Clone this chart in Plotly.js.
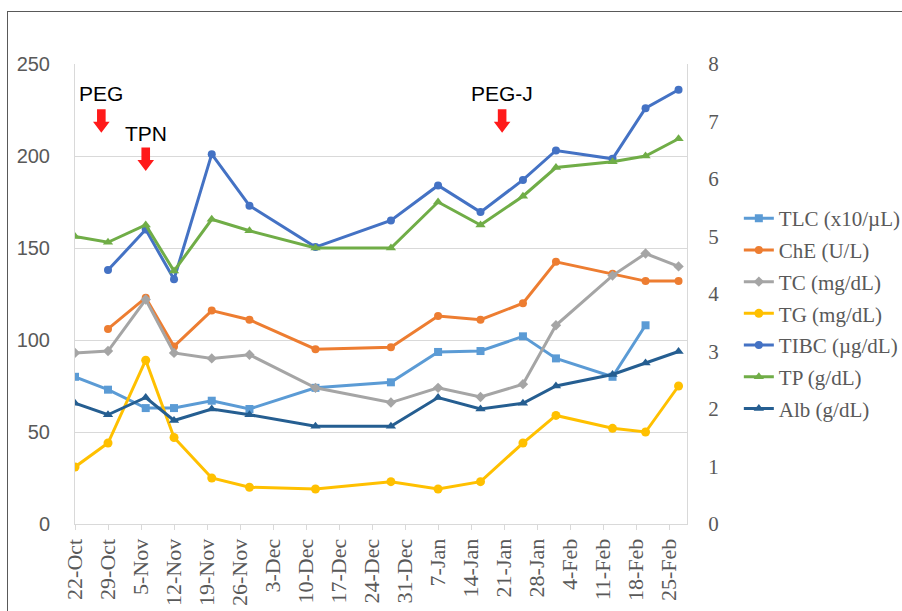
<!DOCTYPE html>
<html>
<head>
<meta charset="utf-8">
<script src="https://cdn.plot.ly/plotly-3.0.1.min.js"></script>
<style>
  html, body { margin: 0; padding: 0; background: #ffffff; overflow: hidden; width: 902px; height: 611px; }
  #frame { position: absolute; left: 7px; top: 11px; width: 1000px; height: 1000px;
           border-left: 1.5px solid #595959; border-top: 1.5px solid #595959; }
  #chart { position: absolute; left: 0; top: 0; width: 1000px; height: 611px; }
</style>
</head>
<body>
<div id="frame"></div>
<div id="chart"></div>
<script>
// ---- data ----
const dates = ['2018-10-22','2018-10-29','2018-11-06','2018-11-12','2018-11-20','2018-11-28',
  '2018-12-12','2018-12-28','2019-01-07','2019-01-16','2019-01-25','2019-02-01',
  '2019-02-13','2019-02-20','2019-02-27'];
const TLC  = [80, 73, 63, 63, 67, 62.5, 74, 77, 93.5, 94, 102, 90, 80, 108, null];
const ChE  = [null, 106, 123, 96.5, 116, 111, 95, 96, 113, 111, 120, 142.5, 136, 132, 132];
const TC   = [93, 94, 122, 93, 90, 92, 74, 66, 74, 69, 76, 108, 135, 147, 140];
const TG   = [31, 44, 89, 47, 25, 20, 19, 23, 19, 23, 44, 59, 52, 50, 75];
const TIBC = [null, 138, 160, 133, 201, 173, 150.5, 165, 184, 169.5, 187, 203, 198.5, 226, 236];
const TP   = [5.0, 4.9, 5.2, 4.4, 5.3, 5.1, 4.8, 4.8, 5.6, 5.2, 5.7, 6.2, 6.3, 6.4, 6.7];
const Alb  = [2.1, 1.9, 2.2, 1.8, 2.0, 1.9, 1.7, 1.7, 2.2, 2.0, 2.1, 2.4, 2.6, 2.8, 3.0];
const seriesNames = ['TLC (x10/\u00b5L)','ChE (U/L)','TC (mg/dL)','TG (mg/dL)','TIBC (\u00b5g/dL)','TP (g/dL)','Alb (g/dL)'];
const events = [
  {label: 'PEG',   date: '2018-10-27 14:00'},
  {label: 'TPN',   date: '2018-11-06'},
  {label: 'PEG-J', date: '2019-01-20 14:00'}
];

// ---- styles ----
const colors = ['#5B9BD5','#ED7D31','#A5A5A5','#FFC000','#4472C4','#70AD47','#255E91'];
const symbols = ['square','circle','diamond','circle','circle','triangle-up','triangle-up'];
const sizes = [8, 8, 8, 9, 8, 9, 9];
const values = [TLC, ChE, TC, TG, TIBC, TP, Alb];
const axes = ['y','y','y','y','y','y2','y2'];

const traces = values.map((v, i) => ({
  type: 'scatter', mode: 'lines+markers',
  x: dates, y: v, name: seriesNames[i], yaxis: axes[i],
  legendgroup: 'g' + i,
  connectgaps: false,
  line: {color: colors[i], width: 3},
  marker: {color: colors[i], symbol: symbols[i], size: sizes[i]}
}));

// event annotations: text + block arrows (pixel-sized shapes anchored at event date)
const evTextY = {PEG: 233.7, TPN: 212, 'PEG-J': 233.7};
const annotations = events.map(e => ({
  xref: 'x', yref: 'y', x: e.date, y: evTextY[e.label],
  text: e.label, showarrow: false,
  font: {family: 'Liberation Sans, Arial, sans-serif', size: 21, color: '#000000'}
}));
const arrowPath = 'M -4.3 0 L 4.3 0 L 4.3 -12.4 L 8.3 -12.4 L 0 -23.4 L -8.3 -12.4 L -4.3 -12.4 Z';
const arrowTop = {PEG: 225.4, TPN: 204.6, 'PEG-J': 225.4};
const shapes = events.map(e => ({
  type: 'path', xref: 'x', yref: 'y',
  xsizemode: 'pixel', ysizemode: 'pixel',
  xanchor: e.date, yanchor: arrowTop[e.label],
  path: arrowPath,
  fillcolor: '#FF1A1A', line: {width: 0}
}));

const layout = {
  width: 1000, height: 611,
  paper_bgcolor: 'rgba(0,0,0,0)', plot_bgcolor: 'rgba(0,0,0,0)',
  margin: {l: 75, r: 313.3, t: 64, b: 87},
  showlegend: true,
  legend: {
    x: 1.0847, xanchor: 'left', y: 0.7085, yanchor: 'top',
    font: {family: 'Liberation Serif, Times New Roman, serif', size: 21, color: '#595959'},
    bgcolor: 'rgba(0,0,0,0)', itemwidth: 30, tracegroupgap: 1.4
  },
  xaxis: {
    type: 'date',
    range: ['2018-10-22', '2019-02-28 19:00'],
    tick0: '2018-10-22', dtick: 7 * 86400000,
    tickformat: '%-d-%b', tickangle: -90,
    ticks: 'outside', ticklen: 5, tickcolor: '#D9D9D9',
    showline: true, linecolor: '#D9D9D9', linewidth: 1,
    showgrid: false, zeroline: false, automargin: false,
    tickfont: {family: 'Liberation Serif, Times New Roman, serif', size: 22, color: '#595959'}
  },
  yaxis: {
    range: [0, 250], dtick: 50,
    showgrid: true, gridcolor: '#D9D9D9', gridwidth: 1,
    showline: true, linecolor: '#D9D9D9', linewidth: 1,
    zeroline: false, ticks: '', automargin: false,
    ticklabelstandoff: 20,
    tickfont: {family: 'Liberation Sans, Arial, sans-serif', size: 20, color: '#595959'}
  },
  yaxis2: {
    overlaying: 'y', side: 'right',
    range: [0, 8], dtick: 1,
    showgrid: false, zeroline: false, automargin: false,
    showline: true, linecolor: '#D9D9D9', linewidth: 1,
    ticks: '', ticklabelstandoff: 16,
    tickfont: {family: 'Liberation Serif, Times New Roman, serif', size: 21, color: '#595959'}
  },
  annotations: annotations,
  shapes: shapes
};

Plotly.newPlot('chart', traces, layout, {displayModeBar: false, staticPlot: true});
</script>
</body>
</html>
